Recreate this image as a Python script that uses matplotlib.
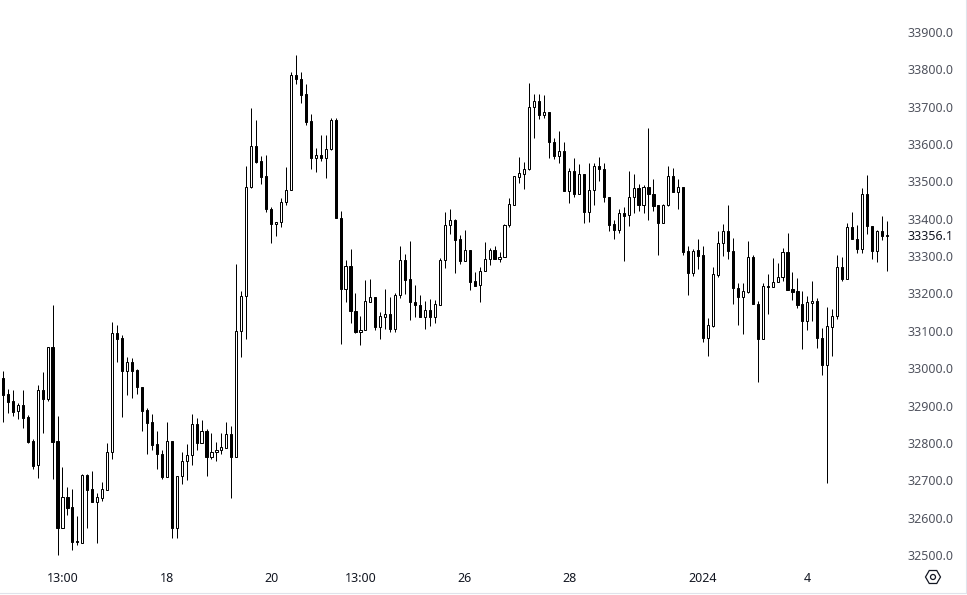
import matplotlib
matplotlib.use("Agg")
import matplotlib.pyplot as plt
from matplotlib.lines import Line2D
from matplotlib.patches import Circle, RegularPolygon
from matplotlib.transforms import Affine2D

opens = [32975, 32931, 32912, 32885, 32901, 32869, 32805, 32740, 32942, 32918,
         33057, 32804, 32573, 32654, 32628, 32537, 32533, 32714, 32676, 32643,
         32653, 32675, 32775, 33093, 33080, 32993, 33016, 32995, 32951, 32887,
         32855, 32796, 32769, 32710, 32804, 32571, 32711, 32751, 32767, 32850,
         32801, 32831, 32763, 32775, 32780, 32787, 32823, 32763, 33099, 33193,
         33484, 33594, 33554, 33514, 33426, 33385, 33391, 33444, 33476, 33784,
         33774, 33733, 33661, 33564, 33570, 33564, 33586, 33664, 33402, 33212,
         33273, 33153, 33096, 33102, 33178, 33190, 33109, 33138, 33145, 33106,
         33195, 33289, 33238, 33177, 33169, 33138, 33155, 33136, 33170, 33289,
         33383, 33396, 33345, 33288, 33316, 33233, 33222, 33259, 33292, 33316,
         33293, 33299, 33383, 33438, 33513, 33521, 33532, 33698, 33714, 33679,
         33685, 33605, 33569, 33581, 33475, 33527, 33467, 33519, 33419, 33476,
         33541, 33532, 33457, 33385, 33371, 33415, 33409, 33457, 33482, 33438,
         33484, 33466, 33436, 33390, 33436, 33514, 33473, 33485, 33313, 33255,
         33316, 33302, 33082, 33114, 33250, 33334, 33366, 33315, 33216, 33191,
         33205, 33299, 33173, 33079, 33219, 33218, 33231, 33243, 33310, 33211,
         33206, 33171, 33127, 33175, 33181, 33082, 33009, 33111, 33140, 33272,
         33239, 33379, 33347, 33320, 33465, 33382, 33314, 33366, 33355]

closes = [32929, 32910, 32884, 32901, 32868, 32802, 32739, 32942, 32918, 33057,
          32803, 32573, 32654, 32627, 32536, 32535, 32714, 32675, 32643, 32654,
          32676, 32775, 33093, 33079, 32993, 33016, 32993, 32951, 32886, 32854,
          32795, 32769, 32710, 32804, 32571, 32711, 32751, 32767, 32850, 32801,
          32831, 32763, 32775, 32780, 32788, 32823, 32763, 33099, 33193, 33484,
          33594, 33553, 33513, 33425, 33385, 33391, 33444, 33476, 33784, 33773,
          33732, 33660, 33564, 33570, 33564, 33586, 33664, 33401, 33211, 33273,
          33152, 33096, 33102, 33179, 33190, 33109, 33139, 33145, 33106, 33195,
          33289, 33237, 33176, 33168, 33138, 33155, 33136, 33171, 33289, 33383,
          33396, 33344, 33288, 33316, 33232, 33221, 33260, 33292, 33316, 33293,
          33299, 33383, 33439, 33514, 33522, 33532, 33698, 33714, 33679, 33685,
          33605, 33569, 33581, 33475, 33527, 33467, 33519, 33419, 33476, 33541,
          33532, 33457, 33384, 33371, 33415, 33408, 33457, 33482, 33438, 33484,
          33465, 33435, 33390, 33436, 33514, 33473, 33484, 33312, 33255, 33315,
          33301, 33082, 33115, 33251, 33334, 33366, 33314, 33216, 33191, 33206,
          33299, 33173, 33079, 33219, 33217, 33232, 33243, 33310, 33210, 33205,
          33170, 33127, 33176, 33181, 33082, 33009, 33112, 33141, 33272, 33239,
          33379, 33346, 33320, 33465, 33381, 33314, 33366, 33355, 33356.1]

highs = [32992, 32944, 32942, 32906, 32942, 32875, 32810, 32954, 32989, 33058,
         33169, 32872, 32736, 32682, 32677, 32604, 32716, 32716, 32725, 32665,
         32695, 32800, 33124, 33116, 33088, 33030, 33027, 32998, 32951, 32893,
         32877, 32832, 32781, 32856, 32804, 32711, 32776, 32797, 32877, 32867,
         32861, 32837, 32827, 32802, 32827, 32856, 32845, 33279, 33206, 33542,
         33697, 33665, 33568, 33571, 33431, 33391, 33455, 33539, 33793, 33839,
         33793, 33761, 33680, 33590, 33624, 33624, 33669, 33669, 33420, 33290,
         33319, 33202, 33141, 33236, 33239, 33191, 33151, 33212, 33191, 33202,
         33327, 33306, 33341, 33223, 33196, 33180, 33186, 33183, 33294, 33418,
         33426, 33399, 33357, 33370, 33316, 33258, 33271, 33337, 33321, 33326,
         33310, 33385, 33456, 33514, 33565, 33552, 33763, 33734, 33734, 33731,
         33685, 33615, 33635, 33606, 33535, 33563, 33547, 33519, 33549, 33549,
         33565, 33549, 33459, 33397, 33425, 33432, 33528, 33520, 33492, 33490,
         33643, 33507, 33438, 33439, 33541, 33536, 33507, 33485, 33327, 33318,
         33346, 33327, 33134, 33272, 33367, 33385, 33437, 33348, 33228, 33228,
         33340, 33302, 33180, 33228, 33252, 33295, 33281, 33323, 33362, 33257,
         33241, 33207, 33194, 33233, 33187, 33107, 33164, 33158, 33303, 33297,
         33388, 33418, 33383, 33482, 33517, 33382, 33370, 33407, 33395]

lows = [32857, 32881, 32873, 32863, 32841, 32801, 32731, 32707, 32827, 32913,
        32704, 32501, 32571, 32608, 32513, 32528, 32533, 32571, 32643, 32533,
        32645, 32675, 32758, 33017, 32870, 32929, 32921, 32932, 32833, 32771,
        32782, 32731, 32704, 32710, 32546, 32546, 32691, 32702, 32742, 32782,
        32801, 32712, 32758, 32752, 32771, 32787, 32653, 32763, 33030, 33079,
        33482, 33550, 33492, 33417, 33336, 33355, 33379, 33438, 33476, 33762,
        33711, 33652, 33532, 33524, 33556, 33510, 33583, 33401, 33066, 33176,
        33122, 33093, 33063, 33101, 33178, 33101, 33077, 33106, 33098, 33098,
        33187, 33199, 33128, 33138, 33136, 33104, 33112, 33122, 33168, 33267,
        33358, 33256, 33278, 33288, 33208, 33219, 33178, 33259, 33275, 33293,
        33283, 33299, 33377, 33438, 33497, 33481, 33530, 33615, 33668, 33671,
        33564, 33561, 33548, 33475, 33441, 33459, 33465, 33390, 33392, 33438,
        33502, 33446, 33368, 33347, 33363, 33288, 33382, 33416, 33422, 33416,
        33398, 33422, 33304, 33390, 33435, 33473, 33427, 33304, 33197, 33247,
        33266, 33071, 33033, 33111, 33244, 33300, 33293, 33173, 33116, 33092,
        33202, 33173, 32964, 33079, 33146, 33218, 33230, 33234, 33210, 33183,
        33162, 33052, 33103, 33126, 33055, 32983, 32694, 33033, 33132, 33234,
        33239, 33346, 33309, 33309, 33360, 33293, 33285, 33344, 33261]

price_ticks = [32500, 32600, 32700, 32800, 32900, 33000, 33100, 33200, 33300,
               33400, 33500, 33600, 33700, 33800, 33900]
last_price = 33356.1
time_pos = [12, 33, 54, 72, 93, 114, 141, 162]
time_labels = ["13:00", "18", "20", "13:00", "26", "28", "2024", "4"]

W, H = 967, 595
PANE_W, PANE_H = 897, 563
plt.rcParams["font.family"] = ["Noto Sans", "DejaVu Sans"]

fig = plt.figure(figsize=(W / 100, H / 100), dpi=100, facecolor="white")
ax = fig.add_axes([0, 1 - PANE_H / H, PANE_W / W, PANE_H / H])

idx = list(range(len(opens)))
ax.vlines(idx, lows, highs, color="black", lw=0.72)
for i in idx:
    up = closes[i] >= opens[i]
    bottom = min(opens[i], closes[i])
    height = abs(closes[i] - opens[i])
    ax.bar(i, height, bottom=bottom, width=0.43, zorder=3, linewidth=0.72,
           edgecolor="black", facecolor="white" if up else "black")

# x: first candle at 2.9 px, 4.966 px per candle; y: 37.36 px per 100 points
ax.set_xlim(-2.9 / 4.966, (PANE_W - 2.9) / 4.966)
ax.set_ylim(33900 - (PANE_H - 32) * 2.677, 33900 + 32 * 2.677)

for s in ax.spines.values():
    s.set_visible(False)
ax.yaxis.tick_right()
ax.set_yticks(price_ticks + [last_price])
ax.set_yticklabels([f"{p:.1f}" for p in price_ticks] + [f"{last_price:.1f}"],
                   fontsize=9, color="#50535e")
ax.get_yticklabels()[-1].set_color("#131722")
ax.set_xticks(time_pos)
ax.set_xticklabels(time_labels, fontsize=9, color="#131722")
ax.get_xticklabels()[6].set_fontweight("bold")
ax.tick_params(axis="y", length=0, pad=7.5)
ax.tick_params(axis="x", length=0, pad=6.5)

# settings icon and frame lines, in pixels from the top left
px = Affine2D().scale(1, -1).translate(0, H)
fig.add_artist(RegularPolygon((933, 577), 6, radius=7.5, orientation=3.14159 / 6,
                              fill=False, ec="#131722", lw=0.9, transform=px))
fig.add_artist(Circle((933, 577), 2.5, fill=False, ec="#131722", lw=0.9, transform=px))
fig.add_artist(Line2D([965.5, 965.5], [0, 592], color="#e0e3eb", lw=0.8, transform=px))
fig.add_artist(Line2D([0, 967], [592.5, 592.5], color="#e0e3eb", lw=0.8, transform=px))

fig.savefig("out.png", dpi=100)
